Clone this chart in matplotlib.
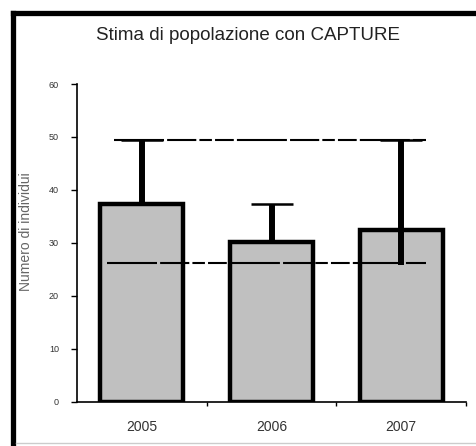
import matplotlib.pyplot as plt
from matplotlib.lines import Line2D

plt.rcParams['font.family'] = ['Liberation Sans', 'DejaVu Sans']

years = ['2005', '2006', '2007']
stime = [37.3, 30.1, 32.4]
err_sopra = [12.1, 7.2, 17.0]
err_sotto = [0.0, 0.0, 6.6]
limite_sup = 49.4
limite_inf = 26.2

fig = plt.figure(figsize=(4.76, 4.46), dpi=100)
ax = fig.add_axes([77 / 476, 1 - 401.7 / 446, 389 / 476, 317.7 / 446])

x = list(range(len(years)))
ax.bar(x, stime, width=0.64, color='#c0c0c0', edgecolor='black', linewidth=3.2, zorder=2)
# barre di errore: sopra con cappuccio, sotto senza
ax.errorbar(x, stime, yerr=[[0] * len(x), err_sopra], fmt='none', ecolor='black',
            elinewidth=4.3, capsize=15, capthick=1.8, zorder=3)
ax.errorbar(x, stime, yerr=[err_sotto, [0] * len(x)], fmt='none', ecolor='black',
            elinewidth=4.3, capsize=0, zorder=3)

# limiti dell'intervallo
for yv, x0 in [(limite_sup, -0.215), (limite_inf, -0.27)]:
    ax.plot([x0, 2.19], [yv, yv], color='black', lw=1.5,
            dashes=(24, 1.5, 14, 1.5, 6, 1.5, 9, 1.5), zorder=4)

ax.set_xlim(-0.5, 2.5)
ax.set_ylim(0, 60)
ax.set_yticks(range(0, 61, 10))
ax.tick_params(axis='y', direction='out', length=4, width=1, labelsize=6.5, pad=9, labelcolor='#333')
ax.set_xticks([0.5, 1.5, 2.5])
ax.set_xticklabels([])
ax.set_xticks(x, minor=True)
ax.set_xticklabels(years, minor=True, fontsize=10, color='#333')
ax.tick_params(axis='x', which='major', direction='out', length=3, width=1)
ax.tick_params(axis='x', which='minor', length=0, pad=13)

for s in ['top', 'right']:
    ax.spines[s].set_visible(False)
for s in ['left', 'bottom']:
    ax.spines[s].set_linewidth(1.2)

ax.set_ylabel('Numero di individui', fontsize=10, color='#666')
ax.yaxis.set_label_coords(-0.113, 0.534)

fig.text(248 / 476, 1 - 35.5 / 446, 'Stima di popolazione con CAPTURE',
         ha='center', va='center', fontsize=13.5, color='#222')

# cornice
fig.add_artist(Line2D([13 / 476, 13 / 476], [0, 1 - 13 / 446], color='black', lw=3.8,
                      transform=fig.transFigure, solid_capstyle='projecting'))
fig.add_artist(Line2D([13 / 476, 1], [1 - 13 / 446, 1 - 13 / 446], color='black', lw=3.8,
                      transform=fig.transFigure, solid_capstyle='projecting'))
fig.add_artist(Line2D([16 / 476, 1], [1 - 443 / 446, 1 - 443 / 446], color='#cccccc', lw=1,
                      transform=fig.transFigure))

fig.savefig('out.png', dpi=100)
